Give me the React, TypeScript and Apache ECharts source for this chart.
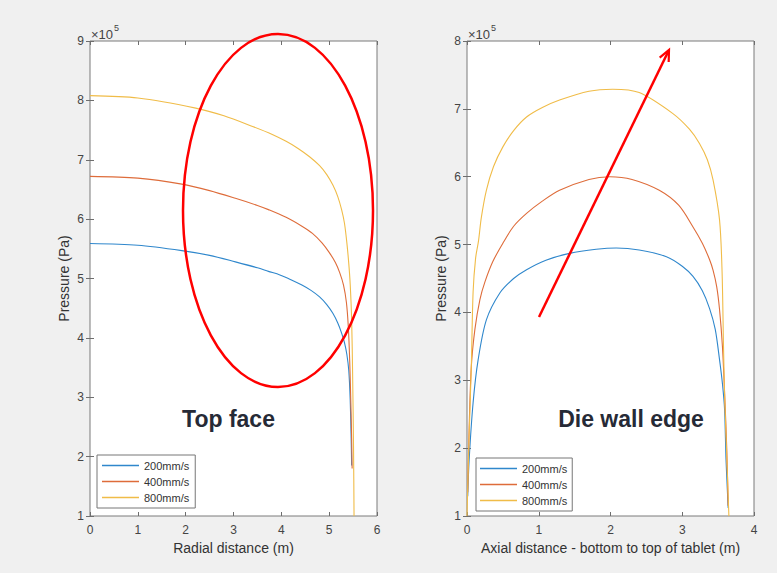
import { useEffect, useRef } from "react";
import * as echarts from "echarts";

const seriesNames = ["200mm/s", "400mm/s", "800mm/s"];

// Top face: radial distance (m) vs pressure (x10^5 Pa)
const topR200 = [0, 1, 1.92, 2.5, 3.04, 3.5, 3.73, 3.97, 4.2, 4.43, 4.62, 4.8, 4.95, 5.08, 5.18, 5.26, 5.32, 5.37, 5.41, 5.44, 5.46, 5.47];
const topP200 = [5.59, 5.56, 5.47, 5.39, 5.28, 5.18, 5.12, 5.06, 4.98, 4.89, 4.8, 4.69, 4.56, 4.41, 4.25, 4.08, 3.92, 3.72, 3.45, 2.95, 2.3, 1.85];
const topR400 = [0, 1, 1.92, 2.5, 3.04, 3.5, 3.73, 4.1, 4.43, 4.65, 4.85, 5.0, 5.13, 5.22, 5.3, 5.36, 5.4, 5.43, 5.45, 5.47, 5.48];
const topP400 = [6.72, 6.69, 6.59, 6.48, 6.35, 6.23, 6.16, 6.03, 5.88, 5.76, 5.6, 5.44, 5.27, 5.1, 4.89, 4.6, 4.19, 3.6, 3.0, 2.3, 1.8];
const topR800 = [0, 1, 2.21, 2.8, 3.4, 3.8, 4.1, 4.35, 4.59, 4.8, 4.95, 5.08, 5.18, 5.26, 5.32, 5.37, 5.41, 5.44, 5.47, 5.49, 5.51, 5.52];
const topP800 = [8.08, 8.04, 7.87, 7.74, 7.56, 7.43, 7.31, 7.19, 7.05, 6.9, 6.75, 6.57, 6.38, 6.16, 5.93, 5.6, 5.25, 4.9, 4.3, 3.4, 2.1, 1.0];

// Die wall edge: axial distance (m) vs pressure (x10^5 Pa)
const wallS200 = [0.01, 0.03, 0.085, 0.155, 0.27, 0.46, 0.65, 0.83, 1.1, 1.43, 1.8, 2.08, 2.4, 2.78, 3.0, 3.15, 3.28, 3.38, 3.46, 3.52, 3.56, 3.59, 3.61, 3.64];
const wallP200 = [1.29, 1.83, 2.67, 3.3, 3.89, 4.29, 4.5, 4.63, 4.77, 4.87, 4.93, 4.95, 4.92, 4.82, 4.68, 4.53, 4.32, 4.06, 3.75, 3.3, 2.95, 2.57, 1.83, 1.12];
const wallS400 = [0.01, 0.03, 0.06, 0.11, 0.18, 0.25, 0.36, 0.5, 0.65, 0.83, 1.05, 1.29, 1.7, 1.99, 2.3, 2.68, 2.95, 3.15, 3.28, 3.38, 3.43, 3.48, 3.52, 3.56, 3.59, 3.62, 3.64];
const wallP400 = [1.35, 2.3, 3.2, 3.75, 4.19, 4.45, 4.75, 5.02, 5.27, 5.46, 5.64, 5.8, 5.96, 6.0, 5.96, 5.8, 5.58, 5.26, 5.02, 4.78, 4.62, 4.38, 4.04, 3.5, 2.82, 2.0, 1.15];
const wallS800 = [0.0, 0.03, 0.06, 0.085, 0.12, 0.16, 0.2, 0.27, 0.37, 0.5, 0.65, 0.83, 1.05, 1.29, 1.7, 2.03, 2.4, 2.87, 3.1, 3.24, 3.35, 3.43, 3.52, 3.555, 3.575, 3.59, 3.62, 3.65];
const wallP800 = [1.0, 2.2, 3.2, 4.3, 4.8, 5.05, 5.4, 5.8, 6.15, 6.44, 6.68, 6.88, 7.02, 7.13, 7.26, 7.29, 7.24, 6.93, 6.7, 6.49, 6.25, 5.95, 5.36, 4.6, 3.5, 2.8, 1.9, 1.0];

const topXTicks = { min: 0, max: 6, interval: 1 };
const topYTicks = { min: 1, max: 9, interval: 1 };
const wallXTicks = { min: 0, max: 4, interval: 1 };
const wallYTicks = { min: 1, max: 8, interval: 1 };

const colors = ["#2f87cc", "#de6c3a", "#f0bc48"];
const FONT = "Liberation Sans, Arial, sans-serif";

const zip = (xs: number[], ys: number[]) => xs.map((x, i) => [x, ys[i]]);

export default function App() {
  const ref = useRef<HTMLDivElement>(null);
  useEffect(() => {
    document.body.style.margin = "0";
    if (!ref.current) return;
    const chart = echarts.init(ref.current, null, { renderer: "svg" });

    const tickStyle = { inside: true, length: 4, lineStyle: { color: "#6e6e6e", width: 1 } };
    const labelStyle = { color: "#444", fontSize: 12, fontFamily: FONT };
    const nameStyle = { color: "#333", fontSize: 14, fontFamily: FONT };

    const xMain = (grid: number, t: any, name: string) => ({
      gridIndex: grid, type: "value", position: "bottom", ...t,
      name, nameLocation: "middle", nameGap: 25, nameTextStyle: nameStyle,
      axisLine: { show: false }, axisTick: tickStyle, splitLine: { show: false },
      axisLabel: { ...labelStyle, margin: 8 },
    });
    const xTop = (grid: number, t: any) => ({
      gridIndex: grid, type: "value", position: "top", ...t,
      axisLine: { show: false }, axisTick: tickStyle, splitLine: { show: false },
      axisLabel: { show: false },
    });
    const yMain = (grid: number, t: any) => ({
      gridIndex: grid, type: "value", position: "left", ...t,
      name: "Pressure (Pa)", nameLocation: "middle", nameGap: 19, nameRotate: 90, nameTextStyle: nameStyle,
      axisLine: { show: false }, axisTick: tickStyle, splitLine: { show: false },
      axisLabel: { ...labelStyle, margin: 6 },
    });
    const yRight = (grid: number, t: any) => ({
      gridIndex: grid, type: "value", position: "right", ...t,
      axisLine: { show: false }, axisTick: tickStyle, splitLine: { show: false },
      axisLabel: { show: false },
    });

    const mk = (name: string, data: number[][], color: string, axis: number) => ({
      name, type: "line", data, xAxisIndex: axis, yAxisIndex: axis,
      showSymbol: false, symbol: "none", smooth: 0.3,
      lineStyle: { color, width: 1.1 }, itemStyle: { color }, z: 3,
    });

    const legendBase = {
      orient: "vertical", data: seriesNames, icon: "rect", itemWidth: 37, itemHeight: 1.6, itemGap: 5,
      backgroundColor: "#fff", borderColor: "#777", borderWidth: 1, borderRadius: 0,
      textStyle: { color: "#333", fontSize: 11, fontFamily: FONT },
      selectedMode: false,
    };

    // arrow geometry
    const tail = [539, 317];
    const tip = [669, 50];
    const dx = tip[0] - tail[0], dy = tip[1] - tail[1];
    const len = Math.hypot(dx, dy);
    const ux = dx / len, uy = dy / len;
    const bx = tip[0] - 11 * ux, by = tip[1] - 11 * uy;
    const nx = -uy, ny = ux;

    chart.setOption({
      animation: false,
      backgroundColor: "#f0f0f0",
      grid: [
        { left: 90, top: 41, width: 287, height: 475, show: true, backgroundColor: "#fff", borderColor: "#7a7a7a", borderWidth: 1 },
        { left: 467, top: 41, width: 287, height: 475, show: true, backgroundColor: "#fff", borderColor: "#7a7a7a", borderWidth: 1 },
      ],
      xAxis: [
        xMain(0, topXTicks, "Radial distance (m)"),
        xTop(0, topXTicks),
        xMain(1, wallXTicks, "Axial distance - bottom to top of tablet (m)"),
        xTop(1, wallXTicks),
      ],
      yAxis: [
        yMain(0, topYTicks),
        yRight(0, topYTicks),
        yMain(1, wallYTicks),
        yRight(1, wallYTicks),
      ],
      legend: [
        { ...legendBase, left: 97, top: 455, padding: [5, 6, 5, 5] },
        { ...legendBase, left: 476, top: 458, padding: [5, 5, 5, 4] },
      ],
      series: [
        mk(seriesNames[0], zip(topR200, topP200), colors[0], 0),
        mk(seriesNames[1], zip(topR400, topP400), colors[1], 0),
        mk(seriesNames[2], zip(topR800, topP800), colors[2], 0),
        mk(seriesNames[0], zip(wallS200, wallP200), colors[0], 2),
        mk(seriesNames[1], zip(wallS400, wallP400), colors[1], 2),
        mk(seriesNames[2], zip(wallS800, wallP800), colors[2], 2),
      ],
      graphic: [
        { type: "text", left: 91, top: 28, z: 10, style: { text: "×10", fontSize: 13, fill: "#444", fontFamily: FONT } },
        { type: "text", left: 114, top: 23, z: 10, style: { text: "5", fontSize: 9, fill: "#444", fontFamily: FONT } },
        { type: "text", left: 468, top: 28, z: 10, style: { text: "×10", fontSize: 13, fill: "#444", fontFamily: FONT } },
        { type: "text", left: 491, top: 23, z: 10, style: { text: "5", fontSize: 9, fill: "#444", fontFamily: FONT } },
        {
          type: "ellipse", z: 20, shape: { cx: 278, cy: 210.5, rx: 95, ry: 176.5 },
          style: { fill: "none", stroke: "#ff0000", lineWidth: 2.5 },
        },
        {
          type: "line", z: 20, shape: { x1: tail[0], y1: tail[1], x2: tip[0] - 2 * ux, y2: tip[1] - 2 * uy },
          style: { stroke: "#ff0000", lineWidth: 2.5 },
        },
        {
          type: "polyline", z: 20,
          shape: { points: [[bx + 5 * nx, by + 5 * ny], [tip[0], tip[1]], [bx - 5 * nx, by - 5 * ny]] },
          style: { stroke: "#ff0000", lineWidth: 2.2, fill: "none" },
        },
        {
          type: "text", x: 228.5, y: 419, z: 20,
          style: { text: "Top face", fontSize: 23, fontWeight: "bold", fill: "#262a36", fontFamily: FONT, align: "center", verticalAlign: "middle" },
        },
        {
          type: "text", x: 631, y: 419, z: 20,
          style: { text: "Die wall edge", fontSize: 23, fontWeight: "bold", fill: "#262a36", fontFamily: FONT, align: "center", verticalAlign: "middle" },
        },
      ],
    });
    return () => chart.dispose();
  }, []);
  return <div ref={ref} style={{ width: 777, height: 573 }} />;
}
